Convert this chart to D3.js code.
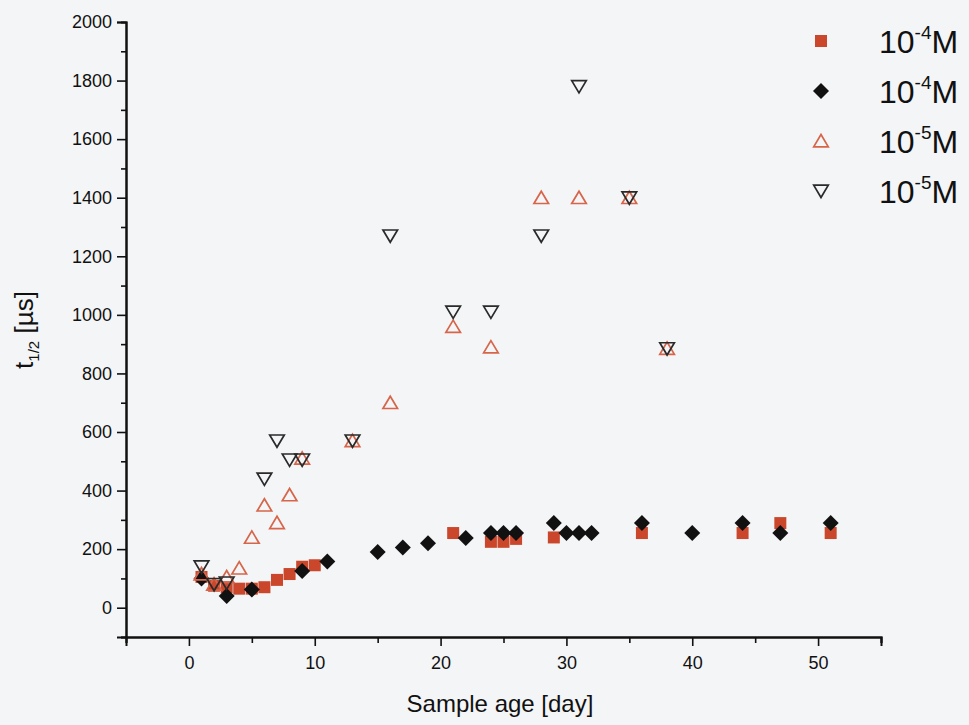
<!DOCTYPE html>
<html>
<head>
<meta charset="utf-8">
<script src="https://cdn.jsdelivr.net/npm/d3@7"></script>
<style>
  html, body { margin: 0; padding: 0; background: #f4f5f7; }
  svg { display: block; }
  text { font-family: "Liberation Sans", Arial, sans-serif; fill: #111; }
</style>
</head>
<body>
<svg id="chart" width="969" height="725"></svg>
<script>
// Half-life t1/2 (µs) against sample age (days), two concentrations, two sets each
const squareDays   = [1, 2, 3, 4, 5, 6, 7, 8, 9, 10, 21, 24, 25, 26, 29, 36, 44, 47, 51];
const squareVals   = [105, 75, 70, 65, 65, 70, 95, 115, 140, 145, 255, 225, 225, 235, 240, 255, 255, 289, 255];

const diamondDays  = [1, 3, 5, 9, 11, 15, 17, 19, 22, 24, 25, 26, 29, 30, 31, 32, 36, 40, 44, 47, 51];
const diamondVals  = [100, 40, 62, 125, 158, 190, 206, 220, 238, 255, 255, 255, 289, 255, 255, 255, 289, 255, 289, 255, 289];

const triUpDays    = [1, 2, 3, 4, 5, 6, 7, 8, 9, 13, 16, 21, 24, 28, 31, 35, 38];
const triUpVals    = [115, 80, 105, 135, 240, 350, 290, 385, 510, 570, 700, 960, 890, 1400, 1400, 1400, 885];

const triDownDays  = [1, 2, 3, 6, 7, 8, 9, 13, 16, 21, 24, 28, 31, 35, 38];
const triDownVals  = [140, 80, 85, 440, 570, 505, 505, 570, 1270, 1010, 1010, 1270, 1780, 1400, 885];

const legendBase   = ["10", "10", "10", "10"];
const legendExp    = ["-4", "-4", "-5", "-5"];
const legendUnit   = ["M", "M", "M", "M"];

const xMajorTicks  = [0, 10, 20, 30, 40, 50];
const xMinorTicks  = [-5, 5, 15, 25, 35, 45, 55];
const yMajorTicks  = [0, 200, 400, 600, 800, 1000, 1200, 1400, 1600, 1800, 2000];
const yMinorTicks  = [-100, 100, 300, 500, 700, 900, 1100, 1300, 1500, 1700, 1900];

const svg = d3.select("#chart");

const x = d3.scaleLinear().domain([-5, 55]).range([126, 881]);
const y = d3.scaleLinear().domain([-100, 2000]).range([637, 22]);

// marker shapes
const shapes = {
  square: { draw(ctx) { const h = 6; ctx.moveTo(-h, -h); ctx.lineTo(h, -h); ctx.lineTo(h, h); ctx.lineTo(-h, h); ctx.closePath(); } },
  diamond: { draw(ctx) { const h = 8; ctx.moveTo(0, -h); ctx.lineTo(h, 0); ctx.lineTo(0, h); ctx.lineTo(-h, 0); ctx.closePath(); } },
  triUp: { draw(ctx) { ctx.moveTo(0, -6.5); ctx.lineTo(7.3, 5.8); ctx.lineTo(-7.3, 5.8); ctx.closePath(); } },
  triDown: { draw(ctx) { ctx.moveTo(0, 6.5); ctx.lineTo(7.3, -5.8); ctx.lineTo(-7.3, -5.8); ctx.closePath(); } }
};

const series = [
  { days: squareDays,  vals: squareVals,  shape: shapes.square,  fill: "#ca472c", stroke: "none",    sw: 0 },
  { days: diamondDays, vals: diamondVals, shape: shapes.diamond, fill: "#111111", stroke: "none",    sw: 0 },
  { days: triUpDays,   vals: triUpVals,   shape: shapes.triUp,   fill: "none",    stroke: "#d6654a", sw: 1.7 },
  { days: triDownDays, vals: triDownVals, shape: shapes.triDown, fill: "none",    stroke: "#2a2a2a", sw: 1.7 }
];

// axes
const xAxis = d3.axisBottom(x).tickValues(xMajorTicks).tickSize(9).tickPadding(10).tickFormat(d3.format("d"));
const xMinor = d3.axisBottom(x).tickValues(xMinorTicks).tickSize(6).tickFormat("");
const yAxis = d3.axisLeft(y).tickValues(yMajorTicks).tickSize(9).tickPadding(5).tickFormat(d3.format("d"));
const yMinor = d3.axisLeft(y).tickValues(yMinorTicks).tickSize(5).tickFormat("");

function styleAxis(g) {
  g.select(".domain").attr("stroke", "#111").attr("stroke-width", 2);
  g.selectAll(".tick line").attr("stroke", "#111").attr("stroke-width", 1.6);
  g.selectAll(".tick text").style("font-size", "18px").attr("fill", "#111")
    .style("font-family", "'Liberation Sans', Arial, sans-serif");
}

svg.append("g").attr("transform", `translate(0,${y(-100)})`).call(xMinor).call(styleAxis);
svg.append("g").attr("transform", `translate(0,${y(-100)})`).call(xAxis).call(styleAxis);
svg.append("g").attr("transform", `translate(${x(-5)},0)`).call(yMinor).call(styleAxis);
svg.append("g").attr("transform", `translate(${x(-5)},0)`).call(yAxis).call(styleAxis);

// axis titles
svg.append("text")
  .attr("x", 500).attr("y", 712)
  .attr("text-anchor", "middle")
  .style("font-size", "24px")
  .text("Sample age [day]");

const yt = svg.append("text")
  .attr("transform", "translate(33,330) rotate(-90)")
  .attr("text-anchor", "middle")
  .style("font-size", "26px");
yt.append("tspan").text("t");
yt.append("tspan").attr("dy", 6).style("font-size", "15px").text("1/2");
yt.append("tspan").attr("dy", -6).text(" [µs]");

// markers
const plot = svg.append("g");
series.forEach(s => {
  const sym = d3.symbol().type(s.shape);
  plot.append("g").selectAll("path")
    .data(s.days.map((d, i) => [d, s.vals[i]]))
    .join("path")
    .attr("transform", d => `translate(${x(d[0])},${y(d[1])})`)
    .attr("d", sym)
    .attr("fill", s.fill)
    .attr("stroke", s.stroke)
    .attr("stroke-width", s.sw);
});

// legend
const legend = svg.append("g");
series.forEach((s, i) => {
  const cy = 41 + i * 50;
  legend.append("path")
    .attr("transform", `translate(821,${cy})`)
    .attr("d", d3.symbol().type(s.shape)())
    .attr("fill", s.fill)
    .attr("stroke", s.stroke)
    .attr("stroke-width", s.sw);
  const t = legend.append("text")
    .attr("x", 879).attr("y", cy + 12)
    .style("font-size", "32px");
  t.append("tspan").text(legendBase[i]);
  t.append("tspan").attr("dy", -14).style("font-size", "19px").text(legendExp[i]);
  t.append("tspan").attr("dy", 14).text(legendUnit[i]);
});
</script>
</body>
</html>
